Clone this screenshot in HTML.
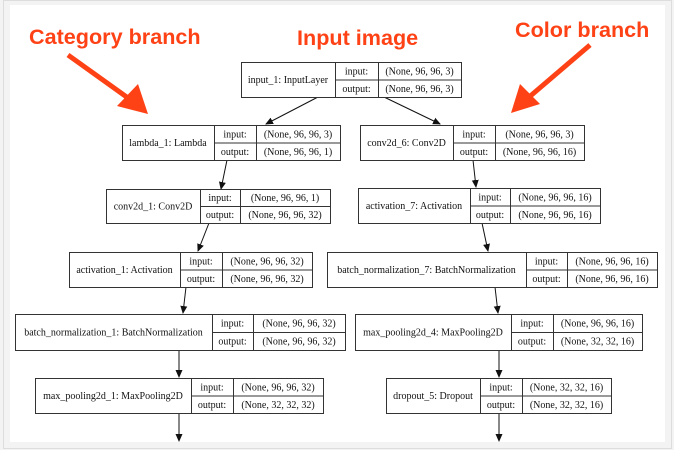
<!DOCTYPE html>
<html><head><meta charset="utf-8"><style>
html,body{margin:0;padding:0;background:#f3f3f3;}
svg{display:block;}
text{font-family:"Liberation Serif",serif;font-size:10px;fill:#111;text-anchor:middle;}
.o{font-family:"Liberation Sans",sans-serif;font-weight:bold;font-size:21.6px;fill:#ff4216;text-anchor:start;}
.b{fill:#fff;stroke:#333;stroke-width:1;}
.d{fill:none;stroke:#333;stroke-width:1;}
</style></head><body>
<svg width="674" height="450" viewBox="0 0 674 450" xmlns="http://www.w3.org/2000/svg">
<defs><marker id="a" markerWidth="8" markerHeight="8" refX="7" refY="4" orient="auto" markerUnits="userSpaceOnUse"><path d="M0,0.5 L8,4 L0,7.5z" fill="#111"/></marker></defs>
<rect x="3.5" y="0.5" width="668" height="448" fill="#f3f3f3" stroke="#ddd"/>
<rect x="10" y="5" width="655" height="437" fill="#fff"/>
<text class="o" x="29" y="44">Category branch</text>
<text class="o" x="297" y="45">Input image</text>
<text class="o" x="515" y="37">Color branch</text>
<line x1="68" y1="55" x2="128" y2="98" stroke="#ff4216" stroke-width="5"/>
<path d="M148,114 L117,106 L138,84z" fill="#ff4216"/>
<line x1="590" y1="45" x2="528" y2="98" stroke="#ff4216" stroke-width="5"/>
<path d="M511,113 L520,84 L540,104z" fill="#ff4216"/>
<g fill="none" stroke="#111" stroke-width="1">
<line x1="318" y1="97" x2="266" y2="124" marker-end="url(#a)"/>
<line x1="384" y1="97" x2="440" y2="124" marker-end="url(#a)"/>
<line x1="227" y1="160" x2="221" y2="189" marker-end="url(#a)"/>
<line x1="473" y1="160" x2="476" y2="187" marker-end="url(#a)"/>
<line x1="209" y1="223" x2="198" y2="251" marker-end="url(#a)"/>
<line x1="482" y1="223" x2="488" y2="251" marker-end="url(#a)"/>
<line x1="186" y1="287" x2="183" y2="313" marker-end="url(#a)"/>
<line x1="495" y1="287" x2="498" y2="313" marker-end="url(#a)"/>
<line x1="179" y1="350" x2="179" y2="377" marker-end="url(#a)"/>
<line x1="499" y1="350" x2="499" y2="377" marker-end="url(#a)"/>
<line x1="179" y1="413" x2="179" y2="441" marker-end="url(#a)"/>
<line x1="499" y1="413" x2="499" y2="441" marker-end="url(#a)"/>
</g>

<rect class="b" x="241.5" y="62.5" width="220" height="35"/>
<path class="d" d="M335.5,62V97M378.5,62V97M335,80H461"/>
<text x="288" y="83">input_1: InputLayer</text>
<text x="356.5" y="74.5">input:</text><text x="356.5" y="92">output:</text>
<text x="419.5" y="74.5">(None, 96, 96, 3)</text><text x="419.5" y="92">(None, 96, 96, 3)</text>

<rect class="b" x="122.5" y="125.5" width="218" height="35"/>
<path class="d" d="M214.5,125V160M256.5,125V160M214,143H340"/>
<text x="168" y="146">lambda_1: Lambda</text>
<text x="235" y="137.5">input:</text><text x="235" y="155">output:</text>
<text x="298" y="137.5">(None, 96, 96, 3)</text><text x="298" y="155">(None, 96, 96, 1)</text>

<rect class="b" x="360.5" y="125.5" width="224" height="35"/>
<path class="d" d="M453.5,125V160M495.5,125V160M453,143H584"/>
<text x="406.5" y="146">conv2d_6: Conv2D</text>
<text x="474" y="137.5">input:</text><text x="474" y="155">output:</text>
<text x="539.5" y="137.5">(None, 96, 96, 3)</text><text x="539.5" y="155">(None, 96, 96, 16)</text>

<rect class="b" x="106.5" y="189.5" width="224" height="34"/>
<path class="d" d="M200.5,189V223M240.5,189V223M200,206.5H330"/>
<text x="153" y="209.5">conv2d_1: Conv2D</text>
<text x="220" y="201">input:</text><text x="220" y="218">output:</text>
<text x="285" y="201">(None, 96, 96, 1)</text><text x="285" y="218">(None, 96, 96, 32)</text>

<rect class="b" x="358.5" y="188.5" width="242" height="35"/>
<path class="d" d="M470.5,188V223M510.5,188V223M470,206H600"/>
<text x="414" y="209">activation_7: Activation</text>
<text x="490" y="200.5">input:</text><text x="490" y="218">output:</text>
<text x="555" y="200.5">(None, 96, 96, 16)</text><text x="555" y="218">(None, 96, 96, 16)</text>

<rect class="b" x="69.5" y="252.5" width="243" height="35"/>
<path class="d" d="M180.5,252V287M222.5,252V287M180,270H312"/>
<text x="124.5" y="273">activation_1: Activation</text>
<text x="201" y="264.5">input:</text><text x="201" y="282">output:</text>
<text x="267" y="264.5">(None, 96, 96, 32)</text><text x="267" y="282">(None, 96, 96, 32)</text>

<rect class="b" x="327.5" y="252.5" width="330" height="35"/>
<path class="d" d="M526.5,252V287M567.5,252V287M526,270H657"/>
<text x="426.5" y="273">batch_normalization_7: BatchNormalization</text>
<text x="546.5" y="264.5">input:</text><text x="546.5" y="282">output:</text>
<text x="612" y="264.5">(None, 96, 96, 16)</text><text x="612" y="282">(None, 96, 96, 16)</text>

<rect class="b" x="15.5" y="314.5" width="330" height="36"/>
<path class="d" d="M212.5,314V350M253.5,314V350M212,332.5H345"/>
<text x="113.5" y="335.5">batch_normalization_1: BatchNormalization</text>
<text x="232.5" y="326.5">input:</text><text x="232.5" y="344.5">output:</text>
<text x="299" y="326.5">(None, 96, 96, 32)</text><text x="299" y="344.5">(None, 96, 96, 32)</text>

<rect class="b" x="355.5" y="314.5" width="287" height="36"/>
<path class="d" d="M511.5,314V350M553.5,314V350M511,332.5H642"/>
<text x="433" y="335.5">max_pooling2d_4: MaxPooling2D</text>
<text x="532" y="326.5">input:</text><text x="532" y="344.5">output:</text>
<text x="597.5" y="326.5">(None, 96, 96, 16)</text><text x="597.5" y="344.5">(None, 32, 32, 16)</text>

<rect class="b" x="35.5" y="378.5" width="288" height="35"/>
<path class="d" d="M191.5,378V413M233.5,378V413M191,396H323"/>
<text x="113" y="399">max_pooling2d_1: MaxPooling2D</text>
<text x="212" y="390.5">input:</text><text x="212" y="408">output:</text>
<text x="278" y="390.5">(None, 96, 96, 32)</text><text x="278" y="408">(None, 32, 32, 32)</text>

<rect class="b" x="386.5" y="378.5" width="225" height="35"/>
<path class="d" d="M480.5,378V413M522.5,378V413M480,396H611"/>
<text x="433" y="399">dropout_5: Dropout</text>
<text x="501" y="390.5">input:</text><text x="501" y="408">output:</text>
<text x="566.5" y="390.5">(None, 32, 32, 16)</text><text x="566.5" y="408">(None, 32, 32, 16)</text>
</svg>
</body></html>
